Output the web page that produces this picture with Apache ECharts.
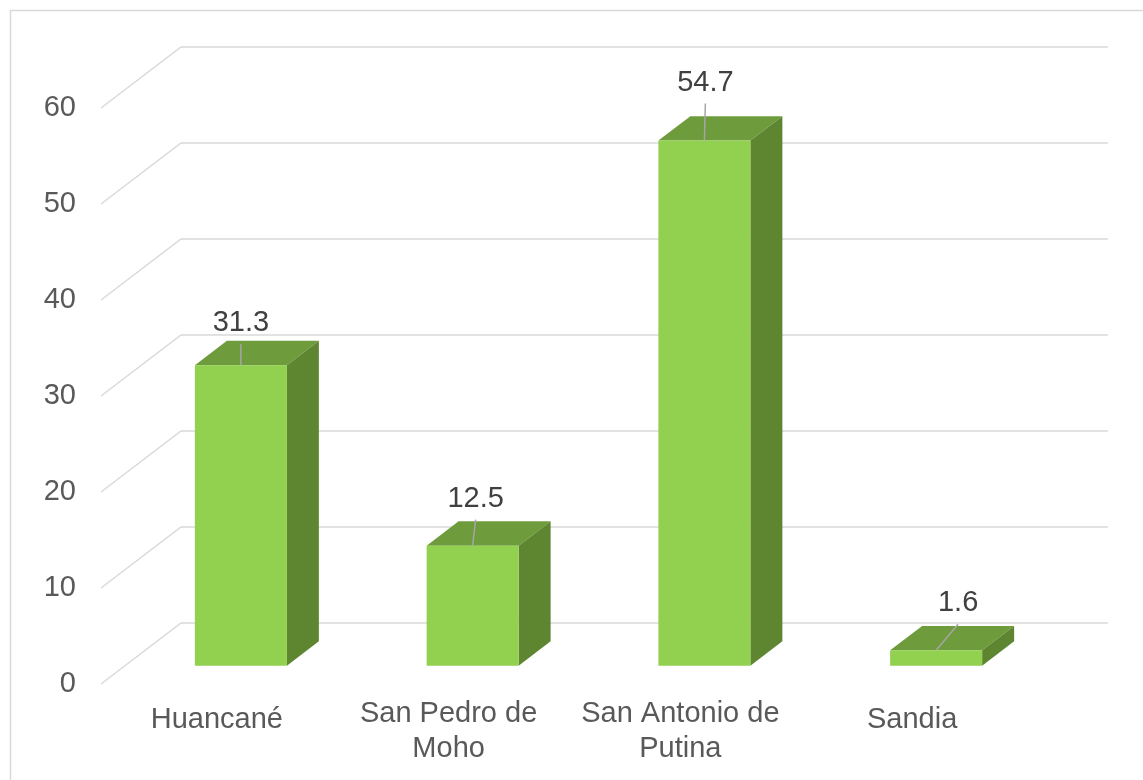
<!DOCTYPE html>
<html>
<head>
<meta charset="utf-8">
<script src="https://cdn.jsdelivr.net/npm/echarts@6/dist/echarts.min.js"></script>
<style>
  html, body { margin: 0; padding: 0; background: #fff; }
  #main { width: 1143px; height: 780px; }
</style>
</head>
<body>
<div id="main"></div>
<script>
// data
var categories = ['Huancané', 'San Pedro de\nMoho', 'San Antonio de\nPutina', 'Sandia'];
var values = [31.3, 12.5, 54.7, 1.6];
var yTicks = [0, 10, 20, 30, 40, 50, 60];

// 3d look: depth offset of the back wall, in px
var DEPTH_X = 80, DEPTH_Y = -61;
// bar sits between 30% and 70% of the depth
var BAR_FRONT = 0.3, BAR_BACK = 0.7;
var BAR_W = 92;
var FONT = '"Liberation Sans", Arial, sans-serif';
// where excel left the data labels (relative to top front edge)
var labelNudge = [[0, -42], [3, -47], [1, -58], [22, -47]];

var myChart = echarts.init(document.getElementById('main'));

function renderWall(params, api) {
    var cs = params.coordSys;
    var y = api.coord([0, api.value(1)])[1];
    var x0 = cs.x, x1 = cs.x + cs.width;
    return {
        type: 'polyline',
        shape: { points: [[x0, y], [x0 + DEPTH_X, y + DEPTH_Y], [x1 + DEPTH_X, y + DEPTH_Y]] },
        style: { stroke: '#d9d9d9', lineWidth: 1.5, fill: null },
        silent: true
    };
}

function renderBar(params, api) {
    var i = api.value(0);
    var top = api.coord([i, api.value(1)]);
    var base = api.coord([i, 0]);
    var fx = BAR_FRONT * DEPTH_X, fy = BAR_FRONT * DEPTH_Y;
    var d = BAR_BACK - BAR_FRONT;
    var dx = d * DEPTH_X, dy = d * DEPTH_Y;
    var l = top[0] + fx - BAR_W / 2, r = top[0] + fx + BAR_W / 2;
    var t = top[1] + fy, b = base[1] + fy;
    var cx = (l + r) / 2;
    var nudge = labelNudge[params.dataIndex];
    var lx = cx + nudge[0], ly = t + nudge[1];
    return {
        type: 'group',
        children: [
            { type: 'polygon', shape: { points: [[l, t], [r, t], [r + dx, t + dy], [l + dx, t + dy]] },
              style: { fill: '#6e9b3b' } },
            { type: 'polygon', shape: { points: [[r, t], [r + dx, t + dy], [r + dx, b + dy], [r, b]] },
              style: { fill: '#5e8631' } },
            { type: 'rect', shape: { x: l, y: t, width: BAR_W, height: b - t },
              style: { fill: '#92d050' } },
            { type: 'line', shape: { x1: lx, y1: ly + 21, x2: cx, y2: t },
              style: { stroke: '#a6a6a6', lineWidth: 1.5 } },
            { type: 'text', x: lx, y: ly,
              style: { text: String(api.value(1)), fill: '#404040', font: '29px ' + FONT,
                       align: 'center', verticalAlign: 'middle' } }
        ]
    };
}

var option = {
    animation: false,
    graphic: [{
        type: 'rect', z: -1,
        shape: { x: 10.5, y: 10.5, width: 1300, height: 900 },
        style: { fill: null, stroke: '#d9d9d9', lineWidth: 1.5 }
    }],
    grid: { left: 101, right: 115, top: 108, bottom: 96 },
    xAxis: {
        type: 'category',
        data: categories,
        axisLine: { show: false },
        axisTick: { show: false },
        axisLabel: {
            margin: 12,
            interval: 0,
            color: '#595959',
            fontSize: 29,
            fontFamily: FONT,
            formatter: function (v) {
                return v.indexOf('\n') >= 0 ? '{m|' + v.replace('\n', '}\n{m|') + '}' : '{s|' + v + '}';
            },
            rich: {
                s: { lineHeight: 48, fontSize: 29, color: '#595959', fontFamily: FONT },
                m: { lineHeight: 35, fontSize: 29, color: '#595959', fontFamily: FONT }
            }
        }
    },
    yAxis: {
        type: 'value',
        min: 0,
        max: 60,
        interval: 10,
        axisLine: { show: false },
        axisTick: { show: false },
        splitLine: { show: false },
        axisLabel: {
            margin: 25,
            padding: [6, 0, 0, 0],
            color: '#595959',
            fontSize: 29,
            fontFamily: FONT
        }
    },
    series: [
        {
            type: 'custom',
            renderItem: renderWall,
            data: yTicks.map(function (v) { return [0, v]; }),
            clip: false,
            silent: true,
            z: 1
        },
        {
            type: 'custom',
            renderItem: renderBar,
            data: values.map(function (v, i) { return [i, v]; }),
            clip: false,
            z: 2
        }
    ]
};

myChart.setOption(option);
</script>
</body>
</html>
